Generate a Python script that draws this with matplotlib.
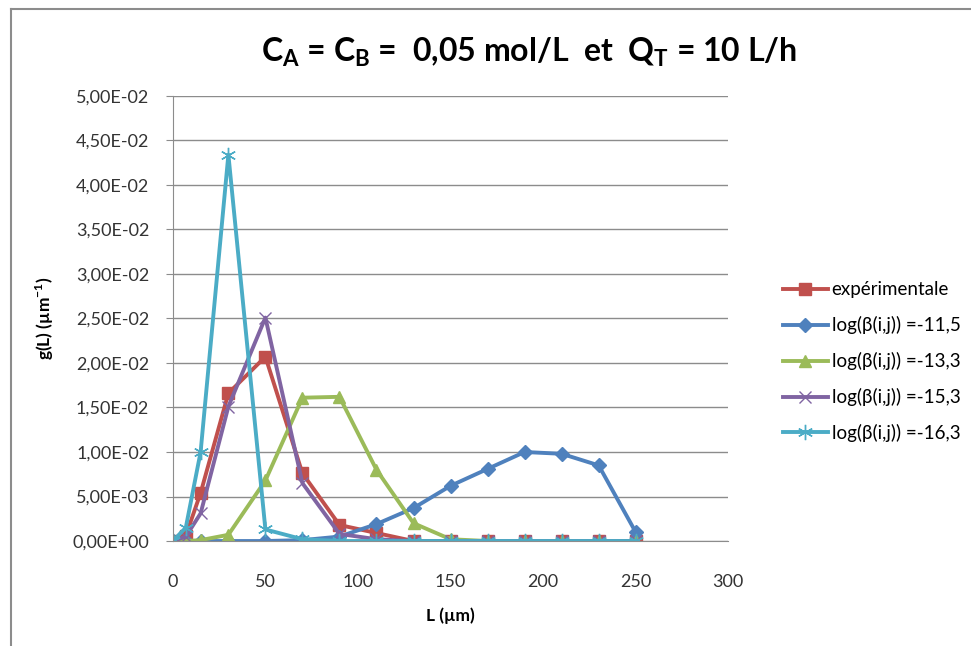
import matplotlib
matplotlib.use('Agg')
import matplotlib.pyplot as plt
from matplotlib.ticker import FuncFormatter, MultipleLocator
from matplotlib.lines import Line2D

plt.rcParams['font.family'] = ['Lato', 'DejaVu Sans']
plt.rcParams['mathtext.fontset'] = 'custom'
plt.rcParams['mathtext.rm'] = 'Lato'

L = [0, 7, 15, 30, 50, 70, 90, 110, 130, 150, 170, 190, 210, 230, 250]
g_exp = [0, 0.0006, 0.0054, 0.0166, 0.0207, 0.0076, 0.0018, 0.0009, 0, 0, 0, 0, 0, 0, 0]
g_115 = [0, 0, 0, 0, 0, 0.0001, 0.0005, 0.0019, 0.0037, 0.0062, 0.0081, 0.0100, 0.0098, 0.0085, 0.0010]
g_133 = [0, 0, 0.0001, 0.0007, 0.0068, 0.0161, 0.0162, 0.0080, 0.0020, 0.0002, 0, 0, 0, 0, 0]
g_153 = [0, 0.0005, 0.0031, 0.0151, 0.0251, 0.0065, 0.0008, 0.0002, 0, 0, 0, 0, 0, 0, 0]
g_163 = [0, 0.0015, 0.0100, 0.0434, 0.0013, 0.0002, 0, 0, 0, 0, 0, 0, 0, 0, 0]

labels = ['expérimentale', 'log(β(i,j)) =-11,5', 'log(β(i,j)) =-13,3',
          'log(β(i,j)) =-15,3', 'log(β(i,j)) =-16,3']

fig = plt.figure(figsize=(9.71, 6.46), dpi=100)
ax = fig.add_axes([0.178, 0.1625, 0.572, 0.689])

ax.plot(L, g_exp, color='#C0504D', lw=2.8, marker='s', ms=9, label=labels[0])
ax.plot(L, g_115, color='#4F81BD', lw=2.8, marker='D', ms=7.5, label=labels[1])
ax.plot(L, g_133, color='#9BBB59', lw=2.8, marker='^', ms=9, label=labels[2])
ax.plot(L, g_153, color='#8064A2', lw=2.8, marker='x', ms=9, mew=1, label=labels[3])
ax.plot(L, g_163, color='#4BACC6', lw=2.8, marker=(6, 2, 0), ms=11, mew=1, label=labels[4])

ax.set_xlim(0, 300)
ax.set_ylim(0, 0.05)
ax.xaxis.set_major_locator(MultipleLocator(50))
ax.yaxis.set_major_locator(MultipleLocator(0.005))
ax.yaxis.set_major_formatter(FuncFormatter(lambda v, p: f'{v:.2E}'.replace('.', ',')))
ax.grid(axis='y', color='#8c8c8c', lw=1)
ax.set_axisbelow(True)
for s in ['top', 'right']:
    ax.spines[s].set_visible(False)
for s in ['left', 'bottom']:
    ax.spines[s].set_color('#8c8c8c')
ax.tick_params(axis='y', length=5, color='#8c8c8c', labelsize=13, labelcolor='#333333', pad=12)
ax.tick_params(axis='x', length=0, labelsize=13, labelcolor='#333333', pad=24)

ax.set_xlabel('L (µm)', fontsize=12.5, fontweight='bold', labelpad=12)
ax.set_ylabel(r'g(L) (µm$^{\mathregular{-1}}$)', fontsize=12.5, fontweight='bold', labelpad=12)

fig.text(0.545, 0.919, r'C$_{\mathregular{A}}$ = C$_{\mathregular{B}}$ =  0,05 mol/L  et  Q$_{\mathregular{T}}$ = 10 L/h',
         ha='center', va='center', fontsize=23, fontweight='bold')

ax.legend(loc='upper left', bbox_to_anchor=(1.085, 0.6), frameon=False, fontsize=13.5,
          handlelength=2.4, labelspacing=0.95, handletextpad=0.2, borderaxespad=0)

fig.add_artist(Line2D([0.011, 0.011], [0, 0.986], transform=fig.transFigure, color='#8c8c8c', lw=1.5))
fig.add_artist(Line2D([0.011, 1], [0.986, 0.986], transform=fig.transFigure, color='#8c8c8c', lw=1.5))

fig.savefig('out.png', dpi=100)
